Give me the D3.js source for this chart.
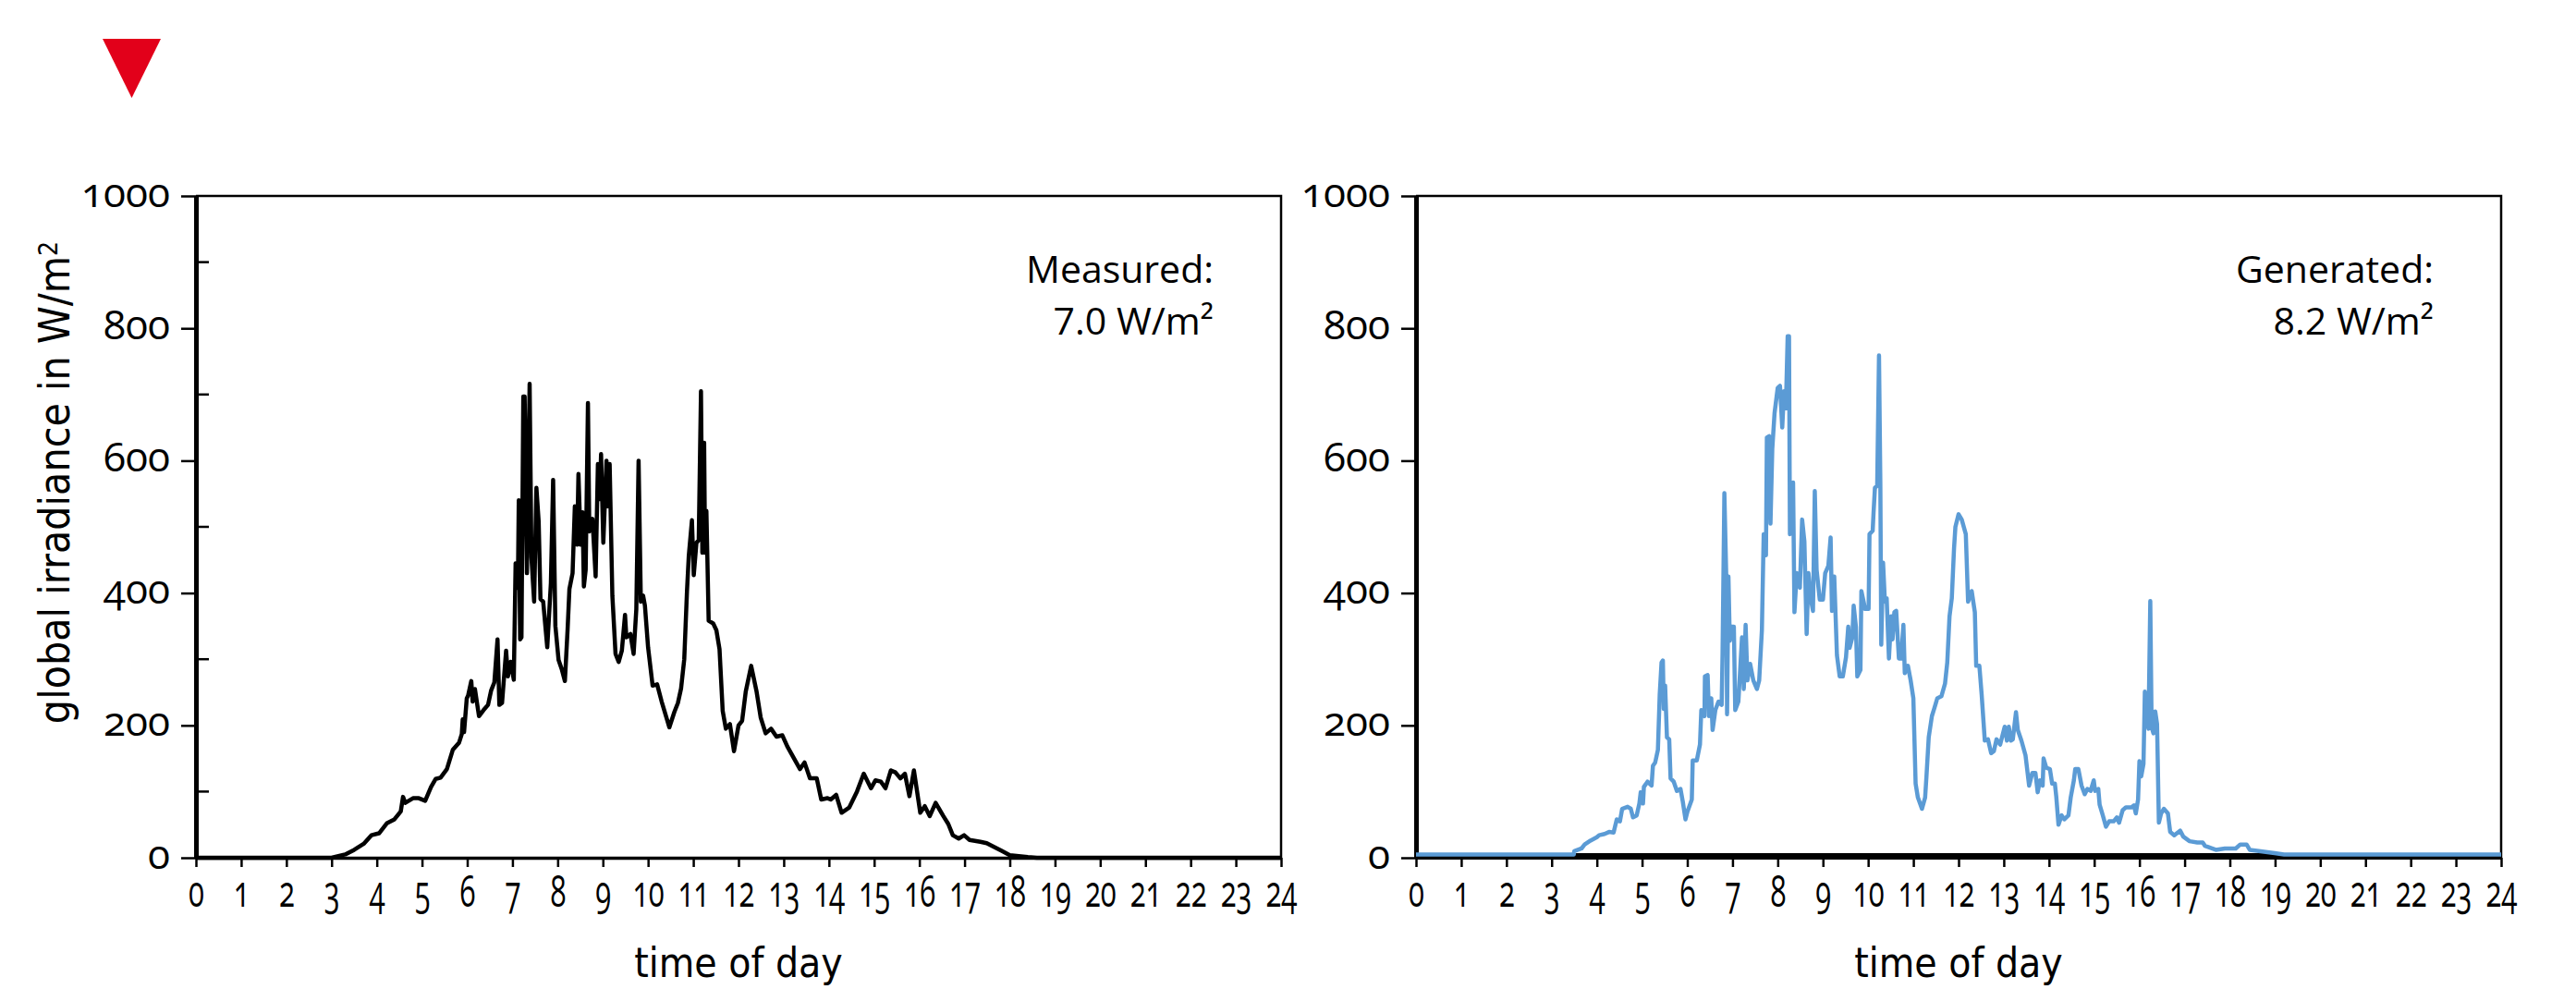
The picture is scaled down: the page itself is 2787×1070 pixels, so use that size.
<!DOCTYPE html>
<html>
<head>
<meta charset="utf-8">
<script src="https://cdn.jsdelivr.net/npm/d3@7"></script>
<style>
  body { margin: 0; background: #fff; }
  svg { display: block; }
  .num { font-family: "Open Sans", sans-serif; font-variant-numeric: oldstyle-nums; font-feature-settings: "onum"; }
  .ttl { font-family: "Liberation Sans Narrow", "DejaVu Sans Condensed", sans-serif; }
  .note { font-family: "Open Sans", sans-serif; }
</style>
</head>
<body>
<svg width="2787" height="1070"></svg>
<script>
// measured irradiance, hour of day / W/m2
var measuredHours = [0, 3.0, 3.3, 3.5, 3.71, 3.88, 4.05, 4.22, 4.39, 4.53, 4.58, 4.63, 4.8, 4.93, 5.07, 5.2, 5.3, 5.41, 5.55, 5.68,
  5.82, 5.88, 5.9, 5.93, 5.99, 6.02, 6.09, 6.12, 6.17, 6.26, 6.36, 6.46, 6.53, 6.6, 6.67, 6.71, 6.77, 6.86, 6.9, 6.96,
  7.03, 7.07, 7.12, 7.14, 7.17, 7.2, 7.24, 7.27, 7.32, 7.38, 7.42, 7.48, 7.53, 7.58, 7.62, 7.68, 7.77, 7.85, 7.9, 7.95,
  8.02, 8.09, 8.16, 8.22, 8.26, 8.33, 8.38, 8.43, 8.46, 8.51, 8.55, 8.58, 8.62, 8.67, 8.7, 8.77, 8.84, 8.89, 8.93, 8.96,
  9.01, 9.08, 9.11, 9.15, 9.21, 9.28, 9.35, 9.42, 9.49, 9.52, 9.61, 9.68, 9.74, 9.79, 9.84, 9.89, 9.93, 10.0, 10.1, 10.2,
  10.3, 10.47, 10.58, 10.66, 10.73, 10.8, 10.86, 10.9, 10.97, 11.01, 11.07, 11.12, 11.17, 11.2, 11.24, 11.26, 11.29, 11.34, 11.44, 11.51,
  11.58, 11.65, 11.72, 11.81, 11.9, 12.0, 12.08, 12.16, 12.28, 12.4, 12.49, 12.6, 12.72, 12.84, 12.97, 13.08, 13.22, 13.36, 13.46, 13.58,
  13.73, 13.83, 13.97, 14.04, 14.16, 14.28, 14.45, 14.62, 14.77, 14.93, 15.03, 15.15, 15.25, 15.37, 15.47, 15.58, 15.68, 15.78, 15.88, 16.02,
  16.12, 16.23, 16.36, 16.53, 16.64, 16.74, 16.87, 16.99, 17.11, 17.35, 17.49, 17.63, 17.83, 18.0, 18.4, 18.6, 24];
var measuredValues = [0, 0, 5, 12, 21, 34, 37, 52, 58, 70, 92, 83, 90, 90, 86, 107, 119, 121, 134, 163,
  174, 187, 209, 190, 241, 245, 267, 236, 255, 214, 223, 231, 253, 265, 330, 231, 234, 313, 274, 296,
  269, 445, 408, 540, 330, 333, 697, 697, 430, 716, 454, 387, 559, 508, 391, 387, 318, 415, 571, 350,
  299, 285, 267, 345, 406, 430, 531, 473, 580, 473, 522, 410, 435, 687, 493, 512, 425, 595, 542, 610,
  476, 600, 531, 595, 396, 308, 296, 313, 367, 333, 338, 308, 376, 600, 387, 396, 381, 318, 260, 262,
  236, 197, 220, 234, 256, 300, 402, 456, 510, 427, 476, 480, 705, 461, 627, 461, 524, 358, 354, 344,
  315, 222, 195, 202, 161, 200, 207, 251, 290, 251, 212, 188, 195, 183, 185, 168, 151, 134, 144, 120,
  120, 88, 90, 88, 95, 68, 76, 100, 127, 105, 117, 115, 105, 132, 129, 120, 127, 93, 132, 68,
  78, 63, 83, 63, 51, 34, 29, 34, 27, 24, 22, 17, 10, 4, 1, 0, 0];

// generated irradiance
var generatedHours = [0, 3.49, 3.5, 3.66, 3.73, 3.86, 4.0, 4.05, 4.17, 4.27, 4.37, 4.44, 4.51, 4.56, 4.68, 4.75, 4.8, 4.88, 4.94, 4.97,
  5.02, 5.04, 5.12, 5.21, 5.24, 5.29, 5.35, 5.39, 5.43, 5.46, 5.48, 5.51, 5.55, 5.6, 5.63, 5.7, 5.77, 5.85, 5.9, 5.96,
  6.0, 6.1, 6.12, 6.21, 6.28, 6.31, 6.38, 6.39, 6.45, 6.48, 6.53, 6.56, 6.62, 6.69, 6.76, 6.78, 6.82, 6.86, 6.88, 6.91,
  6.94, 6.98, 7.03, 7.06, 7.13, 7.21, 7.25, 7.29, 7.33, 7.39, 7.46, 7.54, 7.59, 7.65, 7.69, 7.74, 7.76, 7.81, 7.84, 7.88,
  7.93, 8.0, 8.05, 8.1, 8.14, 8.18, 8.22, 8.25, 8.27, 8.34, 8.37, 8.42, 8.49, 8.54, 8.59, 8.64, 8.68, 8.73, 8.78, 8.82,
  8.86, 8.93, 9.0, 9.05, 9.12, 9.17, 9.2, 9.25, 9.31, 9.37, 9.44, 9.51, 9.56, 9.59, 9.65, 9.68, 9.73, 9.76, 9.83, 9.85,
  9.9, 9.93, 10.01, 10.03, 10.1, 10.12, 10.15, 10.2, 10.24, 10.27, 10.29, 10.33, 10.37, 10.41, 10.46, 10.51, 10.54, 10.58, 10.62, 10.68,
  10.73, 10.78, 10.81, 10.88, 10.94, 11.0, 11.05, 11.1, 11.19, 11.26, 11.29, 11.34, 11.41, 11.46, 11.53, 11.62, 11.7, 11.75, 11.8, 11.85,
  11.9, 11.93, 12.0, 12.07, 12.16, 12.21, 12.29, 12.36, 12.39, 12.46, 12.51, 12.58, 12.65, 12.72, 12.78, 12.84, 12.92, 13.02, 13.07, 13.11,
  13.16, 13.2, 13.27, 13.31, 13.39, 13.48, 13.56, 13.63, 13.7, 13.75, 13.8, 13.86, 13.88, 13.94, 14.02, 14.07, 14.13, 14.16, 14.21, 14.28,
  14.34, 14.43, 14.48, 14.55, 14.58, 14.65, 14.72, 14.79, 14.85, 14.92, 14.99, 15.02, 15.09, 15.12, 15.19, 15.26, 15.33, 15.43, 15.5, 15.55,
  15.63, 15.7, 15.82, 15.88, 15.92, 15.97, 16.0, 16.04, 16.09, 16.12, 16.16, 16.2, 16.24, 16.27, 16.31, 16.35, 16.39, 16.43, 16.48, 16.54,
  16.63, 16.68, 16.77, 16.9, 16.97, 17.11, 17.28, 17.4, 17.45, 17.69, 17.89, 18.13, 18.23, 18.37, 18.44, 18.64, 18.99, 19.2, 24];
var generatedValues = [5, 5, 10, 14, 20, 26, 31, 34, 36, 39, 38, 58, 55, 74, 77, 74, 61, 64, 82, 99,
  82, 107, 115, 109, 139, 144, 163, 247, 295, 298, 225, 260, 182, 179, 120, 115, 101, 104, 85, 58,
  69, 88, 147, 147, 171, 223, 214, 274, 276, 214, 241, 193, 223, 236, 231, 309, 551, 430, 217, 425,
  328, 349, 349, 223, 236, 333, 255, 352, 268, 293, 268, 255, 268, 344, 489, 457, 635, 637, 505, 618,
  672, 710, 713, 650, 705, 679, 788, 788, 489, 567, 371, 430, 408, 511, 478, 338, 430, 392, 373, 554,
  435, 390, 390, 430, 441, 484, 373, 425, 306, 274, 274, 303, 349, 317, 333, 381, 349, 274, 284, 403,
  387, 376, 376, 489, 494, 522, 559, 562, 759, 565, 322, 446, 387, 392, 301, 365, 330, 371, 373, 301,
  301, 352, 279, 290, 268, 241, 112, 91, 74, 91, 123, 182, 214, 225, 241, 244, 263, 295, 365, 392,
  468, 500, 519, 511, 489, 387, 403, 371, 290, 290, 247, 177, 179, 158, 161, 179, 171, 198, 177, 198,
  177, 179, 220, 193, 177, 155, 109, 128, 128, 99, 117, 109, 150, 136, 134, 112, 112, 93, 50, 64,
  58, 64, 91, 117, 134, 134, 109, 96, 104, 101, 117, 101, 104, 80, 64, 47, 55, 55, 61, 53,
  72, 76, 76, 79, 67, 88, 146, 123, 142, 251, 209, 195, 388, 197, 188, 221, 202, 53, 67, 74,
  67, 39, 34, 41, 32, 25, 23, 23, 18, 12, 14, 14, 20, 20, 12, 10, 7, 5, 5];

var hourTicks = d3.range(0, 25);
var valueTicks = [0, 200, 400, 600, 800, 1000];
var minorTicks = [100, 300, 500, 700, 900];

var svg = d3.select("svg");

// red marker top left
svg.append("path")
    .attr("d", "M111,42 L174,42 L142.5,106 Z")
    .attr("fill", "#e2001a");

var y = d3.scaleLinear().domain([0, 1000]).range([928, 212]);

function panel(x0, x1, hours, values, color, label1, label2, minor, thickBottom) {
  var x = d3.scaleLinear().domain([0, 24]).range([x0, x1]);
  var g = svg.append("g");

  // frame top and right
  g.append("path")
      .attr("d", "M" + x0 + "," + y(1000) + "H" + x1 + "V" + y(0))
      .attr("fill", "none")
      .attr("stroke", "#000")
      .attr("stroke-width", 2.5);

  var line = d3.line()
      .x(function(d) { return x(d[0]); })
      .y(function(d) { return y(d[1]); });

  // x axis
  var xa = g.append("g")
      .attr("transform", "translate(0," + y(0) + ")")
      .call(d3.axisBottom(x).tickValues(hourTicks).tickSize(10).tickPadding(10).tickSizeOuter(0));
  xa.select(".domain").attr("stroke-width", thickBottom ? 7 : 3.5)
      .attr("transform", thickBottom ? "translate(0,-2)" : null);
  xa.selectAll(".tick line").attr("stroke-width", 2.5);
  // labels squeezed horizontally, like the condensed face of the original
  xa.selectAll(".tick text")
      .attr("class", "num")
      .attr("font-size", 47)
      .attr("transform", "scale(0.66,1)")
      .attr("fill", "#000");

  // y axis
  var ya = g.append("g")
      .attr("transform", "translate(" + x0 + ",0)")
      .call(d3.axisLeft(y).tickValues(valueTicks).tickFormat(d3.format("d"))
        .tickSize(16).tickPadding(12).tickSizeOuter(0));
  ya.select(".domain").attr("stroke-width", 5);
  ya.selectAll(".tick line").attr("stroke-width", 2.5);
  ya.selectAll(".tick text")
      .attr("class", "num")
      .attr("font-size", 44)
      .attr("dy", "0.25em")
      .attr("fill", "#000");

  if (minor) {
    g.selectAll(".minor")
      .data(minorTicks)
      .enter().append("line")
        .attr("x1", x0).attr("x2", x0 + 14)
        .attr("y1", function(d) { return y(d); })
        .attr("y2", function(d) { return y(d); })
        .attr("stroke", "#000")
        .attr("stroke-width", 2.5);
  }

  g.append("path")
      .datum(hours.map(function(h, i) { return [h, values[i]]; }))
      .attr("d", line)
      .attr("fill", "none")
      .attr("stroke", color)
      .attr("stroke-width", 4.5)
      .attr("stroke-linejoin", "round");

  g.append("text")
      .attr("class", "ttl")
      .attr("x", (x0 + x1) / 2)
      .attr("y", 1057)
      .attr("text-anchor", "middle")
      .attr("font-size", 44)
      .text("time of day");

  var note = g.append("text")
      .attr("class", "note")
      .attr("text-anchor", "end")
      .attr("font-size", 41);
  note.append("tspan").attr("x", x1 - 73).attr("y", 306).text(label1);
  note.append("tspan").attr("x", x1 - 73).attr("y", 362).text(label2);
}

panel(212, 1386, measuredHours, measuredValues, "#000", "Measured:", "7.0 W/m²", true, false);
panel(1532, 2706, generatedHours, generatedValues, "#5b9bd5", "Generated:", "8.2 W/m²", false, true);

// y axis title
var yt = svg.append("text")
    .attr("class", "ttl")
    .attr("transform", "translate(75,522) rotate(-90)")
    .attr("text-anchor", "middle")
    .attr("font-size", 46);
yt.append("tspan").text("global irradiance in W/m");
yt.append("tspan").attr("dy", "-0.45em").attr("font-size", 28).text("2");
</script>
</body>
</html>
